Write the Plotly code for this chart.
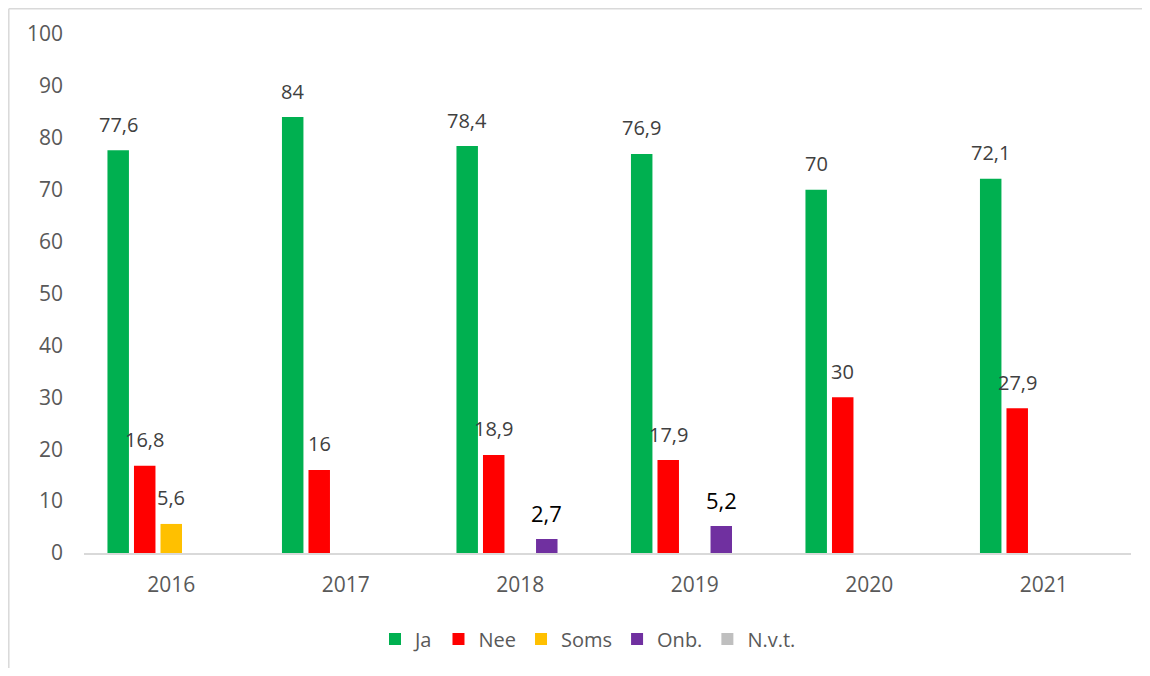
import plotly.graph_objects as go

years = ["2016", "2017", "2018", "2019", "2020", "2021"]
ja = [77.6, 84, 78.4, 76.9, 70, 72.1]
nee = [16.8, 16, 18.9, 17.9, 30, 27.9]
soms = [5.6, None, None, None, None, None]
onb = [None, None, 2.7, 5.2, None, None]
nvt = [0, 0, 0, 0, 0, 0]

series_names = ["Ja", "Nee", "Soms", "Onb.", "N.v.t."]
series_values = [ja, nee, soms, onb, nvt]
colors = ["#00b050", "#ff0000", "#ffc000", "#7030a0", "#bfbfbf"]
label_colors = ["#404040", "#404040", "#404040", "#000000", "#404040"]
label_sizes = [20, 20, 20, 22, 20]

# page has an 8px body margin; figure is sized to fill the rest
OFF = 8
W, H = 1150 - 2 * OFF, 676 - 2 * OFF
ML, MR, MT, MB = 84 - OFF, 11, 34 - OFF, 122 - OFF
BARGAP, BARGROUPGAP = 0.24, 0.19
FONT = "Open Sans"

fig = go.Figure()
for name, vals, col in zip(series_names, series_values, colors):
    fig.add_trace(go.Bar(
        x=years, y=vals, name=name, marker_color=col,
        marker_line_width=0,
    ))

# data labels
plot_w = W - ML - MR
cat_px = plot_w / len(years)
slot_px = cat_px * (1 - BARGAP) / len(series_names)
n = len(series_names)
annotations = []
for i, (vals, lc, ls) in enumerate(zip(series_values, label_colors, label_sizes)):
    for j, v in enumerate(vals):
        if not v:
            continue
        txt = (f"{v:g}").replace(".", ",")
        annotations.append(dict(
            x=j, y=v, xref="x", yref="y", text=txt, showarrow=False,
            xshift=(i - (n - 1) / 2) * slot_px, yshift=26,
            yanchor="middle", xanchor="center",
            font=dict(family=FONT, size=ls, color=lc),
        ))

plot_h = H - MT - MB
def px2paper_x(px):  # px in page coordinates
    return (px - OFF - ML) / plot_w
def px2paper_y(py):
    return (H - MB - (py - OFF)) / plot_h

border = dict(color="#d9d9d9", width=1.5)
fig.update_layout(
    width=W, height=H,
    margin=dict(l=ML, r=MR, t=MT, b=MB, pad=0),
    paper_bgcolor="white", plot_bgcolor="white",
    barmode="group", bargap=BARGAP, bargroupgap=BARGROUPGAP,
    font=dict(family=FONT, size=20, color="#595959"),
    showlegend=True,
    legend=dict(
        orientation="h", x=px2paper_x(588), xanchor="center",
        y=px2paper_y(639), yanchor="middle",
        font=dict(family=FONT, size=20, color="#595959"),
        itemwidth=30, traceorder="normal",
    ),
    xaxis=dict(
        type="category", range=[-0.5, len(years) - 0.5],
        showgrid=False, showline=True, linecolor="#d9d9d9",
        linewidth=1.5, ticks="", ticklabelstandoff=12, zeroline=False,
        tickfont=dict(family=FONT, size=21, color="#595959"),
    ),
    yaxis=dict(
        range=[0, 100], dtick=10, showgrid=False, showline=False,
        zeroline=False, ticks="", ticklabelstandoff=20,
        tickfont=dict(family=FONT, size=21, color="#595959"),
    ),
    annotations=annotations,
    shapes=[
        dict(type="line", xref="paper", yref="paper", layer="below",
             x0=px2paper_x(8.8), x1=px2paper_x(1150), y0=px2paper_y(8.8), y1=px2paper_y(8.8),
             line=border),
        dict(type="line", xref="paper", yref="paper", layer="below",
             x0=px2paper_x(8.8), x1=px2paper_x(8.8), y0=px2paper_y(8.8), y1=px2paper_y(676),
             line=border),
    ],
)

fig.write_html("out.html")
